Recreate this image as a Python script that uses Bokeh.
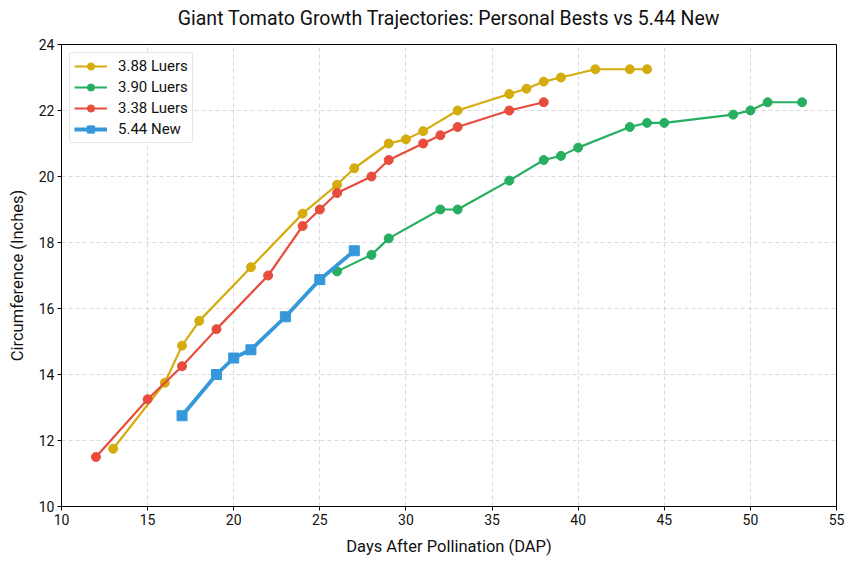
from bokeh.plotting import figure
from bokeh.models import Legend, LegendItem, FixedTicker, Title
from bokeh.embed import file_html
from bokeh.resources import INLINE

FONT = "Roboto"

title_text = "Giant Tomato Growth Trajectories: Personal Bests vs 5.44 New"

days_388 = [13, 16, 17, 18, 21, 24, 26, 27, 29, 30, 31, 33, 36, 37, 38, 39, 41, 43, 44]
circ_388 = [11.75, 13.75, 14.875, 15.625, 17.25, 18.875, 19.75, 20.25, 21.0, 21.125, 21.375, 22.0, 22.5, 22.66, 22.875, 23.0, 23.25, 23.25, 23.25]

days_390 = [26, 28, 29, 32, 33, 36, 38, 39, 40, 43, 44, 45, 49, 50, 51, 53]
circ_390 = [17.125, 17.625, 18.125, 19.0, 19.0, 19.875, 20.5, 20.625, 20.875, 21.5, 21.625, 21.625, 21.875, 22.0, 22.25, 22.25]

days_338 = [12, 15, 17, 19, 22, 24, 25, 26, 28, 29, 31, 32, 33, 36, 38]
circ_338 = [11.5, 13.25, 14.25, 15.375, 17.0, 18.5, 19.0, 19.5, 20.0, 20.5, 21.0, 21.25, 21.5, 22.0, 22.25]

days_544 = [17, 19, 20, 21, 23, 25, 27]
circ_544 = [12.75, 14.0, 14.5, 14.75, 15.75, 16.875, 17.75]

x_ticks = [10, 15, 20, 25, 30, 35, 40, 45, 50, 55]
y_ticks = [10, 12, 14, 16, 18, 20, 22, 24]

C_YEL = "#D4AC0D"
C_GRN = "#27AE60"
C_RED = "#E74C3C"
C_BLU = "#3498DB"

p = figure(width=847, height=560, output_backend="svg", toolbar_location=None,
           x_range=(10, 55), y_range=(10, 24),
           min_border_left=61, min_border_right=11, min_border_top=44, min_border_bottom=54)
p.title = None

spacer = Title(text=" ", text_font_size="1px", standoff=12)
main_title = Title(text=title_text, align="center", text_font=FONT, text_font_size="19.5px",
                   text_font_style="normal", text_color="#111111", standoff=0)
p.add_layout(spacer, "above")
p.add_layout(main_title, "above")

p.outline_line_color = "black"
p.outline_line_width = 1
p.outline_line_alpha = 1

for ax, ticks, label, so in ((p.xaxis, x_ticks, "Days After Pollination (DAP)", 9),
                             (p.yaxis, y_ticks, "Circumference (Inches)", 9)):
    ax.ticker = FixedTicker(ticks=ticks)
    ax.axis_label = label
    ax.axis_label_text_font = FONT
    ax.axis_label_text_font_size = "16.5px"
    ax.axis_label_text_font_style = "normal"
    ax.axis_label_text_color = "#111111"
    ax.major_label_text_font = FONT
    ax.major_label_text_font_size = "14px"
    ax.major_label_text_color = "#111111"
    ax.axis_line_color = "black"
    ax.major_tick_line_color = "black"
    ax.major_tick_out = 4
    ax.major_tick_in = 0
    ax.minor_tick_line_color = None
    ax.axis_label_standoff = so
    ax.major_label_standoff = 3

p.grid.grid_line_color = "#b0b0b0"
p.grid.grid_line_alpha = 0.6
p.grid.grid_line_dash = "4 3"
p.grid.grid_line_width = 0.8

series = [
    ("3.88 Luers", days_388, circ_388, C_YEL, "circle", 2.2, 9),
    ("3.90 Luers", days_390, circ_390, C_GRN, "circle", 2.2, 9),
    ("3.38 Luers", days_338, circ_338, C_RED, "circle", 2.2, 9),
    ("5.44 New", days_544, circ_544, C_BLU, "square", 3.8, 10),
]

items = []
for name, xs, ys, col, mk, lw, sz in series:
    l = p.line(xs, ys, line_color=col, line_width=lw)
    s = p.scatter(xs, ys, marker=mk, size=sz, fill_color=col, line_color=col)
    items.append(LegendItem(label=name, renderers=[l, s]))

legend = Legend(items=items, location="top_left")
legend.label_text_font = FONT
legend.label_text_font_size = "15px"
legend.label_text_color = "#111111"
legend.glyph_width = 33
legend.glyph_height = 18
legend.spacing = 3
legend.padding = 4
legend.margin = 8
legend.label_standoff = 11
legend.border_line_color = "#cccccc"
legend.border_line_width = 1
legend.border_radius = 3
legend.background_fill_alpha = 0.85
p.add_layout(legend, "center")

open("out.html", "w").write(file_html(p, INLINE))
